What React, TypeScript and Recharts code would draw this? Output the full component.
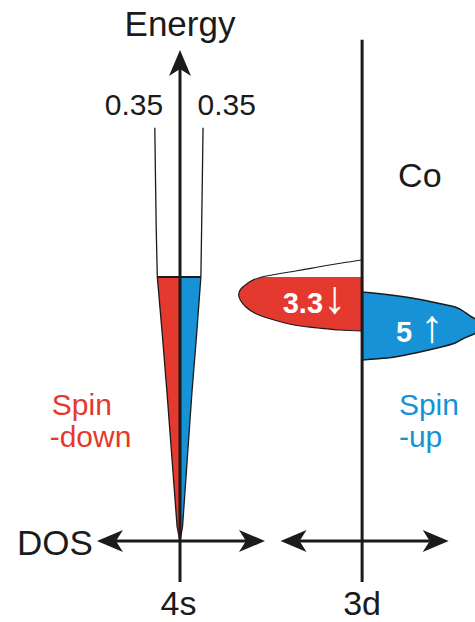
import { ComposedChart, Area, Line, XAxis, YAxis, ReferenceLine, ReferenceDot } from 'recharts';

// energy in arbitrary units, Fermi level at 0; DOS in the units of the 0.35 labels
const FERMI = 0;

const energy4s = [3.39, 2.2, 1.07, 0, -1.32, -2.64, -4.16, -5.68, -6];
const dos4sDown = [-0.35, -0.34, -0.33, -0.315, -0.245, -0.18, -0.11, -0.04, 0];
const dos4sUp = [0.32, 0.31, 0.3, 0.29, 0.23, 0.165, 0.1, 0.035, 0];

const energy3dDown = [0.386, 0.318, 0.227, 0.136, 0, -0.136, -0.273, -0.409, -0.545, -0.682, -0.818, -0.932, -1.045, -1.114, -1.159, -1.205, -1.227];
const dos3dDown = [0, -0.28, -0.61, -0.92, -1.39, -1.58, -1.68, -1.71, -1.68, -1.61, -1.49, -1.31, -1.07, -0.86, -0.61, -0.31, 0];

const energy3dUp = [-0.341, -0.386, -0.477, -0.591, -0.682, -0.795, -0.909, -1.023, -1.114, -1.205, -1.318, -1.409, -1.5, -1.614, -1.727, -1.795, -1.841, -1.886];
const dos3dUp = [0, 0.28, 0.69, 1.04, 1.29, 1.42, 1.52, 1.67, 1.74, 1.67, 1.52, 1.39, 1.29, 1.04, 0.74, 0.53, 0.35, 0];

const topLabel = '0.35';
const electrons3dDown = '3.3';
const electrons3dUp = '5';

const RED = '#e4392e';
const BLUE = '#1792d7';
const INK = '#1b1b1b';
const FONT = "Arial, 'Liberation Sans', Helvetica, sans-serif";

function mergeRows(parts: [string, number[], number[]][]) {
  const map = new Map<number, any>();
  parts.forEach(([key, es, vs]) =>
    es.forEach((e, i) => {
      const row = map.get(e) ?? { e };
      row[key] = vs[i];
      if (e <= FERMI) row[key + 'Fill'] = vs[i];
      map.set(e, row);
    })
  );
  return [...map.values()].sort((a, b) => b.e - a.e);
}

const rows4s = mergeRows([
  ['down', energy4s, dos4sDown],
  ['up', energy4s, dos4sUp],
]);
const rows3d = mergeRows([
  ['down', energy3dDown, dos3dDown],
  ['up', energy3dUp, dos3dUp],
]);

const arrow = (startHead: boolean, endHead: boolean, width = 3) => (p: any) => {
  const { x1, y1, x2, y2 } = p;
  const len = Math.hypot(x2 - x1, y2 - y1) || 1;
  const ux = (x2 - x1) / len;
  const uy = (y2 - y1) / len;
  const nx = -uy;
  const ny = ux;
  const L = 26, W = 11, N = 7;
  const head = (tx: number, ty: number, dx: number, dy: number) => {
    const bx = tx - dx * L, by = ty - dy * L;
    const mx = tx - dx * (L - N), my = ty - dy * (L - N);
    return `${tx},${ty} ${bx + nx * W},${by + ny * W} ${mx},${my} ${bx - nx * W},${by - ny * W}`;
  };
  const sx = startHead ? x1 + ux * (L - N) : x1;
  const sy = startHead ? y1 + uy * (L - N) : y1;
  const ex = endHead ? x2 - ux * (L - N) : x2;
  const ey = endHead ? y2 - uy * (L - N) : y2;
  return (
    <g>
      <line x1={sx} y1={sy} x2={ex} y2={ey} stroke={INK} strokeWidth={width} />
      {startHead && <polygon points={head(x1, y1, -ux, -uy)} fill={INK} />}
      {endHead && <polygon points={head(x2, y2, ux, uy)} fill={INK} />}
    </g>
  );
};

const tag = (value: string, style: any) => (p: any) => (
  <text x={p.cx} y={p.cy} fontFamily={FONT} {...style}>
    {value}
  </text>
);

const count = (value: string, arrowChar: string, gap: string) => (p: any) => (
  <text x={p.cx} y={p.cy} fontFamily={FONT} fontWeight="bold" fontSize={29} fill="#fff">
    {value}
    {gap}
    <tspan fontSize={46} fontWeight="normal">{arrowChar}</tspan>
  </text>
);

const chartMargin = { top: 35, bottom: 37, left: 0, right: 0 };

export default function App() {
  return (
    <div style={{ position: 'absolute', left: 0, top: 0, width: 475, height: 622, overflow: 'hidden', background: '#fff' }}>
      {/* 4s panel */}
      <div style={{ position: 'absolute', left: 0, top: 0 }}>
        <ComposedChart width={270} height={622} layout="vertical" data={rows4s} margin={chartMargin}>
          <XAxis type="number" domain={[-2.5, 1.25]} allowDataOverflow hide />
          <YAxis type="number" dataKey="e" domain={[-7, 5.5]} allowDataOverflow reversed hide />
          <Area dataKey="downFill" type="linear" fill={RED} fillOpacity={1} stroke="none" connectNulls isAnimationActive={false} />
          <Area dataKey="upFill" type="linear" fill={BLUE} fillOpacity={1} stroke="none" connectNulls isAnimationActive={false} />
          <Line dataKey="down" type="linear" stroke={INK} strokeWidth={1.3} dot={false} activeDot={false} isAnimationActive={false} />
          <Line dataKey="up" type="linear" stroke={INK} strokeWidth={1.3} dot={false} activeDot={false} isAnimationActive={false} />
          <ReferenceLine segment={[{ x: dos4sDown[3], y: FERMI }, { x: dos4sUp[3], y: FERMI }]} stroke={INK} strokeWidth={2} ifOverflow="visible" />
          <ReferenceLine segment={[{ x: 0, y: -6.93 }, { x: 0, y: 5.16 }]} ifOverflow="visible" shape={arrow(false, true)} />
          <ReferenceLine segment={[{ x: -1.153, y: -6 }, { x: 1.18, y: -6 }]} ifOverflow="visible" shape={arrow(true, true)} />
          <ReferenceDot x={0} y={5.48} r={0} ifOverflow="visible" shape={tag('Energy', { fontSize: 35, textAnchor: 'middle', fill: INK })} />
          <ReferenceDot x={-0.64} y={3.68} r={0} ifOverflow="visible" shape={tag(topLabel, { fontSize: 30, textAnchor: 'middle', fill: INK })} />
          <ReferenceDot x={0.65} y={3.68} r={0} ifOverflow="visible" shape={tag(topLabel, { fontSize: 30, textAnchor: 'middle', fill: INK })} />
          <ReferenceDot x={-1.21} y={-6.32} r={0} ifOverflow="visible" shape={tag('DOS', { fontSize: 35, textAnchor: 'end', fill: INK })} />
          <ReferenceDot x={-0.02} y={-7.68} r={0} ifOverflow="visible" shape={tag('4s', { fontSize: 34, textAnchor: 'middle', fill: INK })} />
          <ReferenceDot x={-1.78} y={-3.14} r={0} ifOverflow="visible" shape={tag('Spin', { fontSize: 30, fill: RED })} />
          <ReferenceDot x={-1.81} y={-3.86} r={0} ifOverflow="visible" shape={tag('-down', { fontSize: 30, fill: RED })} />
        </ComposedChart>
      </div>
      {/* 3d panel */}
      <div style={{ position: 'absolute', left: 225, top: 0 }}>
        <ComposedChart width={267} height={622} layout="vertical" data={rows3d} margin={chartMargin}>
          <XAxis type="number" domain={[-1.9, 1.8]} allowDataOverflow hide />
          <YAxis type="number" dataKey="e" domain={[-7, 5.5]} allowDataOverflow reversed hide />
          <Area dataKey="downFill" type="natural" fill={RED} fillOpacity={1} stroke="none" connectNulls isAnimationActive={false} />
          <Area dataKey="upFill" type="natural" fill={BLUE} fillOpacity={1} stroke="none" connectNulls isAnimationActive={false} />
          <Line dataKey="down" type="natural" stroke={INK} strokeWidth={1.2} dot={false} activeDot={false} connectNulls isAnimationActive={false} />
          <Line dataKey="up" type="natural" stroke={INK} strokeWidth={1.5} dot={false} activeDot={false} connectNulls isAnimationActive={false} />
          <ReferenceLine segment={[{ x: 0, y: -6.93 }, { x: 0, y: 5.39 }]} ifOverflow="visible" shape={arrow(false, false)} />
          <ReferenceLine segment={[{ x: -1.13, y: -6 }, { x: 1.2, y: -6 }]} ifOverflow="visible" shape={arrow(true, true)} />
          <ReferenceDot x={0} y={-7.68} r={0} ifOverflow="visible" shape={tag('3d', { fontSize: 34, textAnchor: 'middle', fill: INK })} />
          <ReferenceDot x={0.8} y={2.05} r={0} ifOverflow="visible" shape={tag('Co', { fontSize: 34, textAnchor: 'middle', fill: INK })} />
          <ReferenceDot x={0.51} y={-3.14} r={0} ifOverflow="visible" shape={tag('Spin', { fontSize: 30, fill: BLUE })} />
          <ReferenceDot x={0.51} y={-3.86} r={0} ifOverflow="visible" shape={tag('-up', { fontSize: 30, fill: BLUE })} />
          <ReferenceDot x={-1.1} y={-0.82} r={0} ifOverflow="visible" shape={count(electrons3dDown, '↓', '')} />
          <ReferenceDot x={0.47} y={-1.48} r={0} ifOverflow="visible" shape={count(electrons3dUp, '↑', ' ')} />
        </ComposedChart>
      </div>
    </div>
  );
}
